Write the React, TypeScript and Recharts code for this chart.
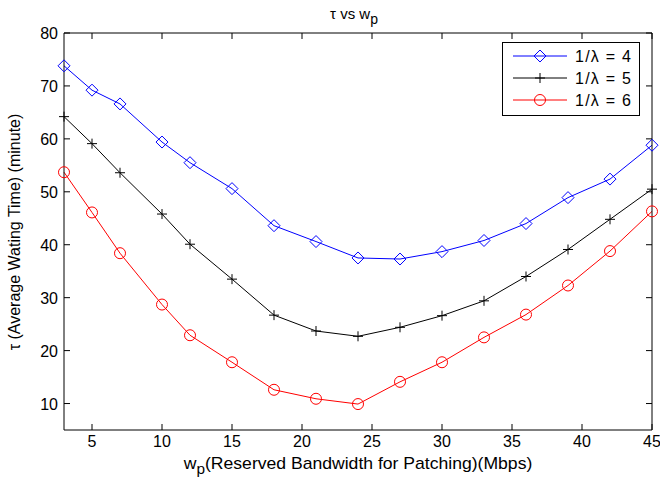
import { LineChart, Line, XAxis, YAxis, Legend } from "recharts";

// x positions (Mbps)
const wp = [3, 5, 7, 10, 12, 15, 18, 21, 24, 27, 30, 33, 36, 39, 42, 45];
// tau values (minutes)
const lambda4 = [73.8, 69.2, 66.6, 59.4, 55.5, 50.6, 43.6, 40.6, 37.5, 37.3, 38.7, 40.8, 44.0, 48.9, 52.4, 58.8];
const lambda5 = [64.2, 59.1, 53.6, 45.8, 40.1, 33.5, 26.7, 23.7, 22.7, 24.4, 26.6, 29.4, 34.0, 39.1, 44.8, 50.5];
const lambda6 = [53.7, 46.1, 38.4, 28.7, 22.9, 17.8, 12.6, 10.9, 9.9, 14.1, 17.8, 22.5, 26.8, 32.3, 38.8, 46.3];

const xTicks = [5, 10, 15, 20, 25, 30, 35, 40, 45];
const yTicks = [10, 20, 30, 40, 50, 60, 70, 80];

const seriesNames = ["1/\u03bb = 4", "1/\u03bb = 5", "1/\u03bb = 6"];

const data = wp.map((w, i) => ({
  w,
  a: lambda4[i],
  b: lambda5[i],
  c: lambda6[i],
}));

const FONT = '"Liberation Sans", Arial, Helvetica, sans-serif';
const TICK = 6;
const FS = 16;

const BottomTick = ({ x, y, payload }: any) => (
  <g>
    <line x1={x} x2={x} y1={y} y2={y - TICK} stroke="#000" />
    <text x={x} y={y + 17} textAnchor="middle" fontSize={FS} fill="#000" fontFamily={FONT}>
      {payload.value}
    </text>
  </g>
);

const LeftTick = ({ x, y, payload }: any) => (
  <g>
    <line x1={x} x2={x + TICK} y1={y} y2={y} stroke="#000" />
    <text x={x - 6} y={y + 6} textAnchor="end" fontSize={FS} fill="#000" fontFamily={FONT}>
      {payload.value}
    </text>
  </g>
);

const TopTick = ({ x, y }: any) => (
  <line x1={x} x2={x} y1={y} y2={y + TICK} stroke="#000" />
);

const RightTick = ({ x, y }: any) => (
  <line x1={x} x2={x - TICK} y1={y} y2={y} stroke="#000" />
);

const diamond = (cx: number, cy: number, color: string, key?: any) => (
  <polygon
    key={key}
    points={`${cx},${cy - 6} ${cx + 6},${cy} ${cx},${cy + 6} ${cx - 6},${cy}`}
    fill="none"
    stroke={color}
  />
);

const plus = (cx: number, cy: number, color: string, key?: any) => (
  <path key={key} d={`M${cx - 5},${cy}H${cx + 5}M${cx},${cy - 5}V${cy + 5}`} stroke={color} fill="none" />
);

const circle = (cx: number, cy: number, color: string, key?: any) => (
  <circle key={key} cx={cx} cy={cy} r={5.5} fill="none" stroke={color} />
);

const markers = [diamond, plus, circle];
const colors = ["#0000ff", "#000000", "#ff0000"];

const LegendBox = () => (
  <svg width={138} height={74} style={{ display: "block" }}>
    <rect x={0.5} y={0.5} width={137} height={73} fill="#fff" stroke="#000" />
    {seriesNames.map((name, i) => {
      const cy = 14 + i * 22;
      return (
        <g key={name}>
          <line x1={11} x2={65} y1={cy} y2={cy} stroke={colors[i]} />
          {markers[i](38, cy, colors[i])}
          <text
            x={73}
            y={cy + 6}
            fontSize={FS}
            fill="#000"
            fontFamily={FONT}
            textLength={56}
            lengthAdjust="spacing"
          >
            {name}
          </text>
        </g>
      );
    })}
  </svg>
);

export default function App() {
  return (
    <div style={{ position: "absolute", left: 0, top: 0, width: 660, height: 481, background: "#fff" }}>
      <LineChart
        width={660}
        height={481}
        data={data}
        margin={{ top: 32, right: 7, bottom: 0, left: 0 }}
        style={{ fontFamily: FONT }}
      >
        <XAxis
          dataKey="w"
          type="number"
          domain={[3, 45]}
          ticks={xTicks}
          interval={0}
          height={51}
          tickSize={0}
          tickMargin={0}
          tick={<BottomTick />}
          axisLine={{ stroke: "#000" }}
          label={{
            content: () => (
              <g transform="translate(358 469) scale(1.1 1)">
                <text x={0} y={0} textAnchor="middle" fontSize={FS} fill="#000" fontFamily={FONT}>
                  w
                  <tspan fontSize={14} dy={5}>p</tspan>
                  <tspan dy={-5}>(Reserved Bandwidth for Patching)(Mbps)</tspan>
                </text>
              </g>
            ),
          }}
        />
        <XAxis
          xAxisId="top"
          orientation="top"
          dataKey="w"
          type="number"
          domain={[3, 45]}
          ticks={xTicks}
          interval={0}
          height={1}
          tickSize={0}
          tickMargin={0}
          tick={<TopTick />}
          axisLine={{ stroke: "#000" }}
          label={{
            content: () => (
              <text x={354} y={19} textAnchor="middle" fontSize={15} fill="#000" fontFamily={FONT}>
                {"\u03c4 vs w"}
                <tspan fontSize={14} dy={5}>p</tspan>
              </text>
            ),
          }}
        />
        <YAxis
          type="number"
          domain={[5, 80]}
          ticks={yTicks}
          interval={0}
          width={64}
          tickSize={0}
          tickMargin={0}
          tick={<LeftTick />}
          axisLine={{ stroke: "#000" }}
          label={{
            content: () => (
              <text
                x={20}
                y={232}
                transform="rotate(-90 20 232)"
                textAnchor="middle"
                fontSize={FS}
                fill="#000"
                fontFamily={FONT}
              >
                {"\u03c4 (Average Wating Time) (minute)"}
              </text>
            ),
          }}
        />
        <YAxis
          yAxisId="right"
          orientation="right"
          type="number"
          domain={[5, 80]}
          ticks={yTicks}
          interval={0}
          width={1}
          tickSize={0}
          tickMargin={0}
          tick={<RightTick />}
          axisLine={{ stroke: "#000" }}
        />
        <Legend
          layout="vertical"
          align="center"
          verticalAlign="middle"
          content={() => <LegendBox />}
          wrapperStyle={{ position: "absolute", left: 502, top: 42, width: 138, height: 74 }}
        />
        {/* invisible series so the top and right frame axes get drawn */}
        <Line
          xAxisId="top"
          yAxisId="right"
          dataKey="a"
          stroke="none"
          dot={false}
          activeDot={false}
          legendType="none"
          isAnimationActive={false}
        />
        {(["a", "b", "c"] as const).map((k, i) => (
          <Line
            key={k}
            dataKey={k}
            name={seriesNames[i]}
            stroke={colors[i]}
            strokeWidth={1}
            isAnimationActive={false}
            dot={(p: any) => markers[i](p.cx, p.cy, colors[i], `${k}-${p.index}`)}
            activeDot={false}
          />
        ))}
      </LineChart>
    </div>
  );
}
